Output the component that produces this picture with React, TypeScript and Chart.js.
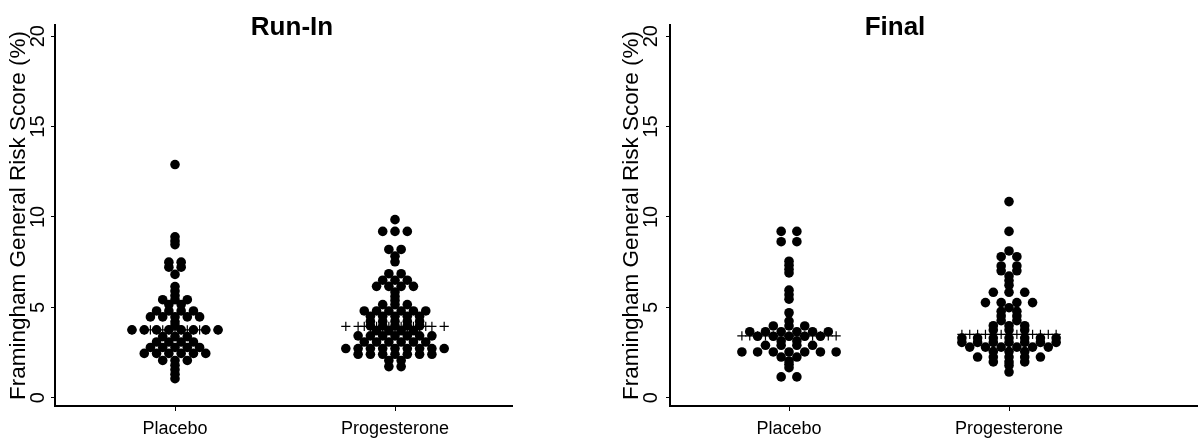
import React, { useEffect, useRef } from 'react';
import { Chart, registerables } from 'chart.js';

Chart.register(...registerables);

// ---------- data ----------
const categories = ['Placebo', 'Progesterone'];
const yTicks = [0, 5, 10, 15, 20];
const yTitle = 'Framingham General Risk Score (%)';

// Run-In panel: bin levels and number of participants in each bin row
const runInPlaceboLevels = [12.9, 8.9, 8.67, 8.47, 7.5, 7.22, 6.82, 6.15, 5.9, 5.65, 5.42, 5.15, 4.8, 4.47, 4.2, 4.0, 3.75, 3.38, 3.08, 2.78, 2.45, 2.06, 1.8, 1.55, 1.3, 1.05];
const runInPlaceboCounts = [1, 1, 1, 1, 2, 2, 1, 1, 1, 1, 3, 2, 4, 5, 1, 1, 8, 3, 4, 5, 6, 3, 1, 1, 1, 1];
const runInProgLevels = [9.85, 9.2, 8.2, 7.83, 7.52, 6.86, 6.5, 6.16, 5.85, 5.6, 5.38, 5.15, 4.8, 4.5, 4.22, 3.97, 3.7, 3.42, 3.08, 2.72, 2.4, 2.06, 1.72];
const runInProgCounts = [1, 3, 2, 1, 1, 2, 3, 4, 1, 1, 1, 3, 6, 5, 5, 5, 4, 7, 6, 9, 7, 2, 2];
const runInMedians = [3.75, 3.95];

// Final panel
const finalPlaceboLevels = [9.2, 8.63, 7.55, 7.33, 7.1, 6.9, 5.95, 5.7, 5.45, 4.7, 4.24, 3.97, 3.65, 3.4, 3.14, 2.9, 2.53, 2.25, 2.03, 1.85, 1.66, 1.15];
const finalPlaceboCounts = [2, 2, 1, 1, 1, 1, 1, 1, 1, 1, 1, 3, 6, 5, 2, 4, 7, 2, 1, 1, 1, 2];
const finalProgLevels = [10.85, 9.2, 8.12, 7.8, 7.29, 7.02, 6.73, 6.48, 6.22, 5.83, 5.26, 4.98, 4.78, 4.52, 4.26, 3.98, 3.74, 3.3, 3.06, 2.8, 2.55, 2.25, 1.98, 1.78, 1.42];
const finalProgCounts = [1, 1, 1, 2, 2, 2, 1, 1, 1, 3, 4, 1, 2, 2, 2, 3, 3, 7, 7, 6, 3, 5, 3, 1, 1];
const finalMedians = [3.42, 3.5];

// ---------- layout helpers ----------
const FONT = "'Liberation Sans', Arial, Helvetica, sans-serif";

type Pt = { x: number; y: number };

function dotRows(levels: number[], counts: number[], cat: number, gap: number): Pt[] {
  const pts: Pt[] = [];
  levels.forEach((v, r) => {
    const n = counts[r];
    for (let i = 0; i < n; i++) pts.push({ x: cat + (i - (n - 1) / 2) * gap, y: v });
  });
  return pts;
}

function medianMarks(counts: number[], cat: number, gap: number, median: number): Pt[] {
  const offs = new Set<number>();
  counts.forEach((n) => {
    for (let i = 0; i < n; i++) offs.add(i - (n - 1) / 2);
  });
  return Array.from(offs)
    .sort((a, b) => a - b)
    .map((o) => ({ x: cat + o * gap, y: median }));
}

type PanelCfg = {
  left: number;
  width: number;
  title: string;
  yAxisWidth: number;
  yTitlePad: number;
  yTickPad: number;
  padRight: number;
  xMin: number;
  xMax: number;
  gap: number;
  levels: number[][];
  counts: number[][];
  medians: number[];
};

const panels: PanelCfg[] = [
  {
    left: 0,
    width: 584,
    title: 'Run-In',
    yAxisWidth: 55,
    yTitlePad: 5.5,
    yTickPad: 1,
    padRight: 72,
    xMin: -0.5455,
    xMax: 1.5318,
    gap: 0.0559,
    levels: [runInPlaceboLevels, runInProgLevels],
    counts: [runInPlaceboCounts, runInProgCounts],
    medians: runInMedians,
  },
  {
    left: 592,
    width: 606,
    title: 'Final',
    yAxisWidth: 78,
    yTitlePad: 26.5,
    yTickPad: 3.4,
    padRight: 0,
    xMin: -0.541,
    xMax: 1.859,
    gap: 0.0714,
    levels: [finalPlaceboLevels, finalProgLevels],
    counts: [finalPlaceboCounts, finalProgCounts],
    medians: finalMedians,
  },
];

function makeConfig(p: PanelCfg): any {
  const datasets: any[] = [];
  categories.forEach((name, ci) => {
    datasets.push({
      label: name,
      data: dotRows(p.levels[ci], p.counts[ci], ci, p.gap),
      pointRadius: 4.8,
      pointBackgroundColor: '#000',
      pointBorderWidth: 0,
      pointHoverRadius: 4.8,
      showLine: false,
    });
  });
  categories.forEach((name, ci) => {
    datasets.push({
      label: name + ' median',
      data: medianMarks(p.counts[ci], ci, p.gap, p.medians[ci]),
      pointStyle: 'cross',
      pointRadius: 4.6,
      pointBorderColor: '#000',
      pointBorderWidth: 1.2,
      showLine: false,
    });
  });

  return {
    type: 'scatter',
    data: { datasets },
    options: {
      animation: false,
      responsive: false,
      events: [],
      layout: { padding: 0, autoPadding: false },
      plugins: {
        legend: { display: false },
        tooltip: { enabled: false },
        title: {
          display: true,
          text: p.title,
          color: '#000',
          font: { family: FONT, size: 26, weight: 'bold', lineHeight: 1.2 },
          padding: { top: 12.4, bottom: -18.6 },
        },
      },
      scales: {
        x: {
          type: 'linear',
          min: p.xMin,
          max: p.xMax,
          afterBuildTicks: (s: any) => {
            s.ticks = categories.map((_, i) => ({ value: i }));
          },
          afterFit: (s: any) => {
            s.height = 36;
            s.paddingLeft = 0;
            s.paddingRight = p.padRight;
          },
          ticks: {
            autoSkip: false,
            padding: 7,
            color: '#000',
            font: { family: FONT, size: 18 },
            callback: (v: any) => categories[Math.round(Number(v))] ?? '',
          },
          grid: {
            display: true,
            drawOnChartArea: false,
            drawTicks: true,
            tickLength: 5,
            tickColor: '#000',
            tickWidth: 1,
          },
          border: { display: true, color: '#000', width: 2 },
        },
        y: {
          type: 'linear',
          min: -0.46,
          max: 20.62,
          afterBuildTicks: (s: any) => {
            s.ticks = yTicks.map((v) => ({ value: v }));
          },
          afterFit: (s: any) => {
            s.width = p.yAxisWidth;
          },
          ticks: {
            minRotation: 90,
            maxRotation: 90,
            crossAlign: 'center',
            padding: p.yTickPad,
            color: '#000',
            font: { family: FONT, size: 20 },
            callback: (v: any) => String(v),
          },
          grid: {
            display: true,
            drawOnChartArea: false,
            drawTicks: true,
            tickLength: 4,
            tickColor: '#000',
            tickWidth: 1,
          },
          border: { display: true, color: '#000', width: 2 },
          title: {
            display: true,
            text: yTitle,
            color: '#000',
            font: { family: FONT, size: 22.5, lineHeight: 1.2 },
            padding: { top: p.yTitlePad, bottom: 0 },
          },
        },
      },
    },
  };
}

function Panel({ cfg }: { cfg: PanelCfg }) {
  const ref = useRef<HTMLCanvasElement | null>(null);
  useEffect(() => {
    if (!ref.current) return;
    const chart = new Chart(ref.current, makeConfig(cfg));
    return () => chart.destroy();
  }, [cfg]);
  return (
    <canvas
      ref={ref}
      width={cfg.width}
      height={442}
      style={{ position: 'absolute', left: cfg.left, top: 0, width: cfg.width, height: 442, display: 'block' }}
    />
  );
}

export default function App() {
  return (
    <div style={{ position: 'fixed', left: 0, top: 0, width: 1198, height: 442, background: '#fff', overflow: 'hidden' }}>
      {panels.map((p) => (
        <Panel key={p.title} cfg={p} />
      ))}
    </div>
  );
}
